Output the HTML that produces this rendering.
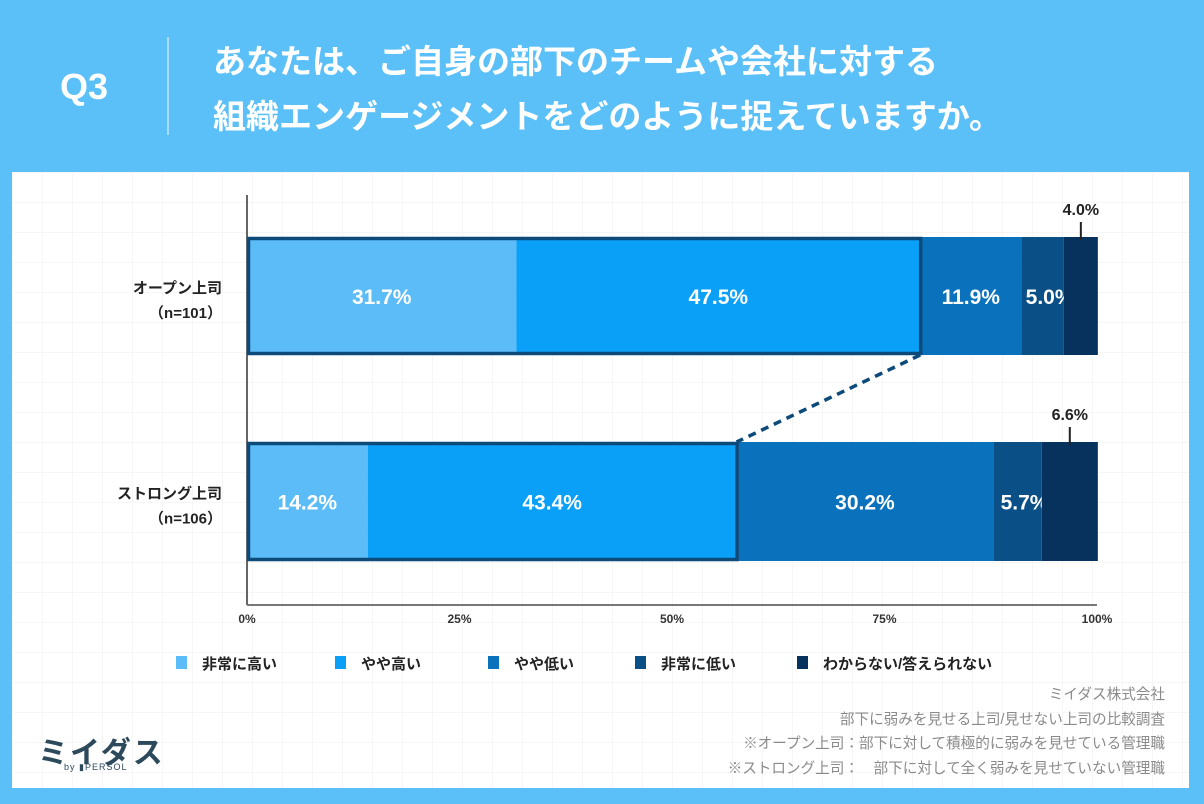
<!DOCTYPE html>
<html><head><meta charset="utf-8"><style>
body{margin:0;width:1204px;height:804px;background:#5bbff8;font-family:"Liberation Sans","Noto Sans CJK JP",sans-serif;overflow:hidden;position:relative}
.t{position:absolute;white-space:nowrap}
</style></head><body>
<div class="t" style="left:60px;top:66px;font-size:36px;font-weight:bold;color:#fff">Q3</div>
<div style="position:absolute;left:167px;top:37px;width:2px;height:98px;background:#a8dcfb"></div>
<div class="t" style="left:213px;top:34px;font-size:33px;font-weight:bold;color:#fff;line-height:55px">あなたは、ご自身の部下のチームや会社に対する<br>組織エンゲージメントをどのように捉えていますか。</div>
<div style="position:absolute;left:12px;top:172px;width:1177px;height:616px;background:#fff;background-image:linear-gradient(#f6f6f6 1px,transparent 1px),linear-gradient(90deg,#f6f6f6 1px,transparent 1px);background-size:30px 30px"></div>
<svg id="chart" width="1204" height="804" style="position:absolute;left:0;top:0" font-family="Liberation Sans, Noto Sans CJK JP, sans-serif"></svg>
<div class="t" style="right:39px;top:683px;text-align:right;font-size:14.6px;color:#8a8a8a;line-height:24.5px">ミイダス株式会社<br>部下に弱みを見せる上司/見せない上司の比較調査<br>※オープン上司：部下に対して積極的に弱みを見せている管理職<br>※ストロング上司：　部下に対して全く弱みを見せていない管理職</div>
<div class="t" style="left:38px;top:728px;font-size:30px;font-weight:bold;color:#2d4a5c;letter-spacing:2px">ミイダス</div>
<div class="t" style="left:64px;top:762px;font-size:9px;color:#2d4a5c;letter-spacing:1px">by ▮PERSOL</div>
<script>
const categories=["オープン上司","ストロング上司"];
const counts=["（n=101）","（n=106）"];
const seriesNames=["非常に高い","やや高い","やや低い","非常に低い","わからない/答えられない"];
const openVals=[31.7,47.5,11.9,5.0,4.0];
const strongVals=[14.2,43.4,30.2,5.7,6.6];
const tickLabels=["0%","25%","50%","75%","100%"];
const tickVals=[0,25,50,75,100];
const colors=["#5bbcf8","#0aa0f7","#0a72bd","#0a4f85","#08325e"];
const NS="http://www.w3.org/2000/svg";
const svg=document.getElementById('chart');
const X0=247,X1=1097;
const x=v=>X0+(X1-X0)*v/100;
const rows=[{y:237,h:118,vals:openVals},{y:442,h:119,vals:strongVals}];
function mk(t,a){const e=document.createElementNS(NS,t);for(const k in a)e.setAttribute(k,a[k]);svg.appendChild(e);return e;}
let e=mk('line',{x1:X0,y1:195,x2:X0,y2:605,stroke:'#333','stroke-width':1.5});


e=mk('line',{x1:X0,y1:605,x2:X1,y2:605,stroke:'#777','stroke-width':2});


tickVals.forEach((v,i)=>{const t=mk('text',{x:x(v),y:623,'text-anchor':'middle','font-size':12,'font-weight':'bold',fill:'#333'});t.textContent=tickLabels[i];

});
rows.forEach((r,ri)=>{
 let acc=0;
 r.vals.forEach((v,si)=>{
  const rc=mk('rect',{x:x(acc),y:r.y,width:x(acc+v)-x(acc),height:r.h,fill:colors[si]});
  
  
  const cx=(x(acc)+x(acc+v))/2;
  if(si<4){const t=mk('text',{x:cx+(si==3?7:0),y:r.y+r.h/2+8,'text-anchor':'middle','font-size':21,'font-weight':'bold',fill:'#fff'});t.textContent=v.toFixed(1)+'%';
   
   }
  else{const l=mk('line',{x1:cx,y1:r.y-15,x2:cx,y2:r.y+3,stroke:'#222','stroke-width':2});
   
   
   const t=mk('text',{x:cx,y:r.y-22,'text-anchor':'middle','font-size':16,'font-weight':'bold',fill:'#222'});t.textContent=v.toFixed(1)+'%';
   
   }
  acc+=v;
 });
 const hb=mk('rect',{x:X0+1.5,y:r.y+1.5,width:x(r.vals[0]+r.vals[1])-X0-1,height:r.h-3,fill:'none',stroke:'#0c4a7a','stroke-width':3.5});
 
 
 const t1=mk('text',{x:222,y:r.y+r.h/2-3,'text-anchor':'end','font-size':15,'font-weight':'bold',fill:'#222'});t1.textContent=categories[ri];
 
 
 const t2=mk('text',{x:222,y:r.y+r.h/2+22,'text-anchor':'end','font-size':15,'font-weight':'bold',fill:'#222'});t2.textContent=counts[ri];
 
 
});
const d=mk('line',{x1:x(openVals[0]+openVals[1]),y1:rows[0].y+rows[0].h,x2:x(strongVals[0]+strongVals[1]),y2:rows[1].y,stroke:'#0c4a7a','stroke-width':3.5,'stroke-dasharray':'8,6'});


const legX=[176,335,488,635,797];
seriesNames.forEach((n,i)=>{
 const r=mk('rect',{x:legX[i],y:656,width:11,height:13,fill:colors[i]});
 
 
 const t=mk('text',{x:legX[i]+26,y:669,'font-size':15,'font-weight':'bold',fill:'#222'});t.textContent=n;
 
 
});
</script>
</body></html>
